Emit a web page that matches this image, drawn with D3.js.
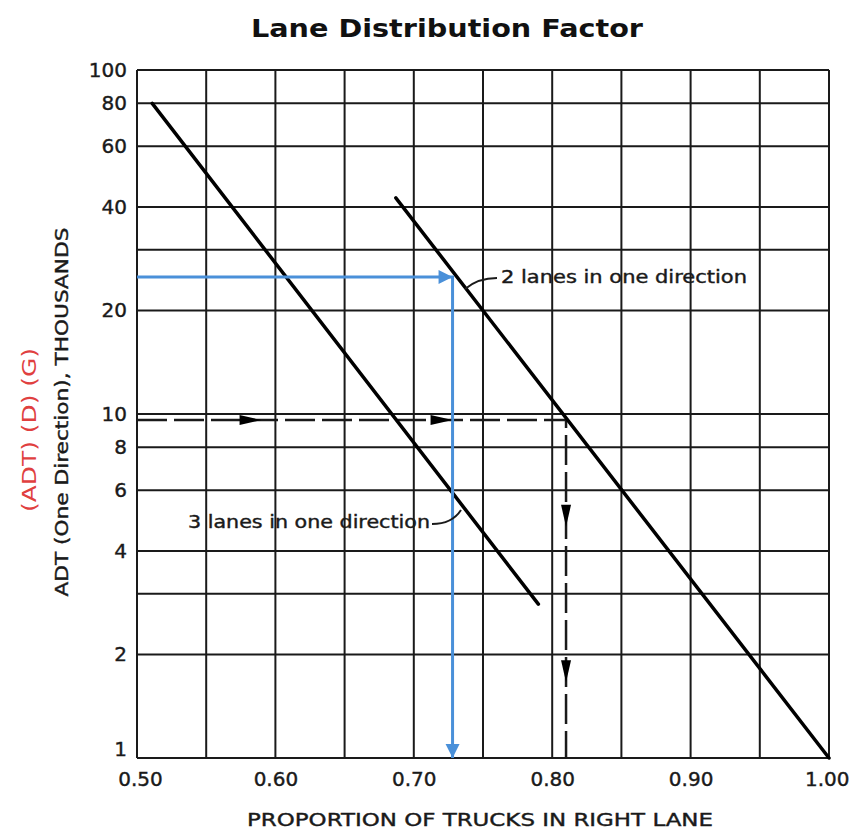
<!DOCTYPE html>
<html>
<head>
<meta charset="utf-8">
<script src="https://cdn.jsdelivr.net/npm/d3@7"></script>
<style>
  body { margin: 0; background: #fff; }
  svg { display: block; }
</style>
</head>
<body>
<svg id="chart" width="853" height="835"></svg>
<script>
// values
const xTicks = [0.50, 0.60, 0.70, 0.80, 0.90, 1.00];
const xGrid = [0.50, 0.55, 0.60, 0.65, 0.70, 0.75, 0.80, 0.85, 0.90, 0.95, 1.00];
const yTicks = [1, 2, 4, 6, 8, 10, 20, 40, 60, 80, 100];
const yGrid = [1, 2, 3, 4, 6, 8, 10, 20, 30, 40, 60, 80, 100];

const twoLanes = [[0.687, 42.5], [1.00, 1]];
const threeLanes = [[0.511, 80], [0.79, 2.8]];

// worked example (blue) and chart's own dashed example
const blueExample = [[0.50, 25], [0.728, 25], [0.728, 1]];
const dashedExample = [[0.50, 9.6], [0.81, 9.6], [0.81, 1]];
const dashedArrows = [[0.590, 9.6, 'right'], [0.728, 9.6, 'right'], [0.81, 4.7, 'down'], [0.81, 1.66, 'down']];
const blueArrows = [[0.728, 25, 'right'], [0.728, 1, 'down']];

const svg = d3.select('#chart');
const mLeft = 137, mRight = 829, mTop = 70, mBottom = 758;

const x = d3.scaleLinear().domain([0.5, 1]).range([mLeft, mRight]);
const y = d3.scaleLog().domain([1, 100]).range([mBottom, mTop]);

const font = '"DejaVu Sans", Verdana, sans-serif';
const ink = '#1a1a1a';

// title
svg.append('text')
    .attr('x', 447).attr('y', 30)
    .attr('text-anchor', 'middle')
    .attr('dominant-baseline', 'middle')
    .attr('font-family', font)
    .attr('font-weight', 'bold')
    .attr('font-size', 25)
    .attr('textLength', 392)
    .attr('lengthAdjust', 'spacingAndGlyphs')
    .attr('fill', '#111')
    .text('Lane Distribution Factor');

// grid
const grid = svg.append('g').attr('stroke', ink).attr('stroke-width', 2);
grid.selectAll('line.v').data(xGrid).join('line')
    .attr('class', 'v')
    .attr('x1', d => x(d)).attr('x2', d => x(d))
    .attr('y1', mTop).attr('y2', mBottom);
grid.selectAll('line.h').data(yGrid).join('line')
    .attr('class', 'h')
    .attr('x1', mLeft).attr('x2', mRight)
    .attr('y1', d => y(d)).attr('y2', d => y(d));

// tick labels via axes
const yAxis = svg.append('g')
    .attr('transform', `translate(${mLeft},0)`)
    .call(d3.axisLeft(y).tickValues(yTicks).tickFormat(d3.format('d')).tickSize(0).tickPadding(10));
yAxis.select('.domain').remove();
yAxis.selectAll('text')
    .attr('font-family', font)
    .attr('font-size', 20)
    .attr('fill', ink)
    .attr('stroke', ink).attr('stroke-width', 0.4)
    .attr('dy', (d) => d === 1 ? '-0.15em' : '0.32em');

const xAxis = svg.append('g')
    .attr('transform', `translate(0,${mBottom})`)
    .call(d3.axisBottom(x).tickValues(xTicks).tickFormat(d3.format('.2f')).tickSize(0).tickPadding(14));
xAxis.select('.domain').remove();
xAxis.selectAll('text')
    .attr('font-family', font)
    .attr('font-size', 20)
    .attr('fill', ink)
    .attr('stroke', ink).attr('stroke-width', 0.4)
    .attr('text-anchor', (d) => d === 1 ? 'end' : 'middle')
    .attr('dx', (d) => d === 1 ? 20 : (d === 0.5 ? 3 : 0));

// axis titles
svg.append('text')
    .attr('x', 480).attr('y', 821)
    .attr('text-anchor', 'middle')
    .attr('dominant-baseline', 'middle')
    .attr('font-family', font)
    .attr('font-size', 18)
    .attr('textLength', 466)
    .attr('lengthAdjust', 'spacingAndGlyphs')
    .attr('fill', ink)
    .attr('stroke', ink).attr('stroke-width', 0.4)
    .text('PROPORTION OF TRUCKS IN RIGHT LANE');

svg.append('text')
    .attr('transform', 'translate(63,412) rotate(-90)')
    .attr('text-anchor', 'middle')
    .attr('dominant-baseline', 'middle')
    .attr('font-family', font)
    .attr('font-size', 17)
    .attr('textLength', 369)
    .attr('lengthAdjust', 'spacingAndGlyphs')
    .attr('fill', ink)
    .attr('stroke', ink).attr('stroke-width', 0.4)
    .text('ADT (One Direction), THOUSANDS');

svg.append('text')
    .attr('transform', 'translate(30,430) rotate(-90)')
    .attr('text-anchor', 'middle')
    .attr('dominant-baseline', 'middle')
    .attr('font-family', font)
    .attr('font-size', 20)
    .attr('textLength', 164)
    .attr('lengthAdjust', 'spacingAndGlyphs')
    .attr('fill', '#e0403f')
    .text('(ADT) (D) (G)');

const line = d3.line().x(d => x(d[0])).y(d => y(d[1]));

// dashed example
svg.append('path')
    .attr('d', line(dashedExample))
    .attr('fill', 'none')
    .attr('stroke', ink)
    .attr('stroke-width', 2.5)
    .attr('stroke-dasharray', '30 7');

// lane lines
[twoLanes, threeLanes].forEach(pts => {
    svg.append('path')
        .attr('d', line(pts))
        .attr('fill', 'none')
        .attr('stroke', '#000')
        .attr('stroke-width', 3.5)
        .attr('stroke-linecap', 'round');
});

// blue example
svg.append('path')
    .attr('d', line(blueExample))
    .attr('fill', 'none')
    .attr('stroke', '#4a90d9')
    .attr('stroke-width', 3);

function arrow(d, len, half) {
    const tx = x(d[0]), ty = y(d[1]);
    if (d[2] === 'right') return `M${tx},${ty}L${tx - len},${ty - half}L${tx - len},${ty + half}Z`;
    return `M${tx},${ty}L${tx - half},${ty - len}L${tx + half},${ty - len}Z`;
}
svg.selectAll('path.darrow').data(dashedArrows).join('path')
    .attr('class', 'darrow')
    .attr('d', d => arrow(d, 22, 5))
    .attr('fill', '#000');
svg.selectAll('path.barrow').data(blueArrows).join('path')
    .attr('class', 'barrow')
    .attr('d', d => arrow(d, 14, 7))
    .attr('fill', '#4a90d9');

// annotations
function label(text, tx, ty, len) {
    svg.append('text')
        .attr('x', tx).attr('y', ty)
        .attr('dominant-baseline', 'middle')
        .attr('font-family', font)
        .attr('font-size', 17)
        .attr('textLength', len)
        .attr('lengthAdjust', 'spacingAndGlyphs')
        .attr('fill', ink)
        .attr('stroke', ink).attr('stroke-width', 0.4)
        .text(text);
}
label('2 lanes in one direction', 501, 278, 246);
label('3 lanes in one direction', 188, 523, 242);

svg.append('path')
    .attr('d', 'M465,289 Q478,278 497,278')
    .attr('fill', 'none').attr('stroke', ink).attr('stroke-width', 2);
svg.append('path')
    .attr('d', 'M432,524 Q452,524 461,510')
    .attr('fill', 'none').attr('stroke', ink).attr('stroke-width', 2);
</script>
</body>
</html>
